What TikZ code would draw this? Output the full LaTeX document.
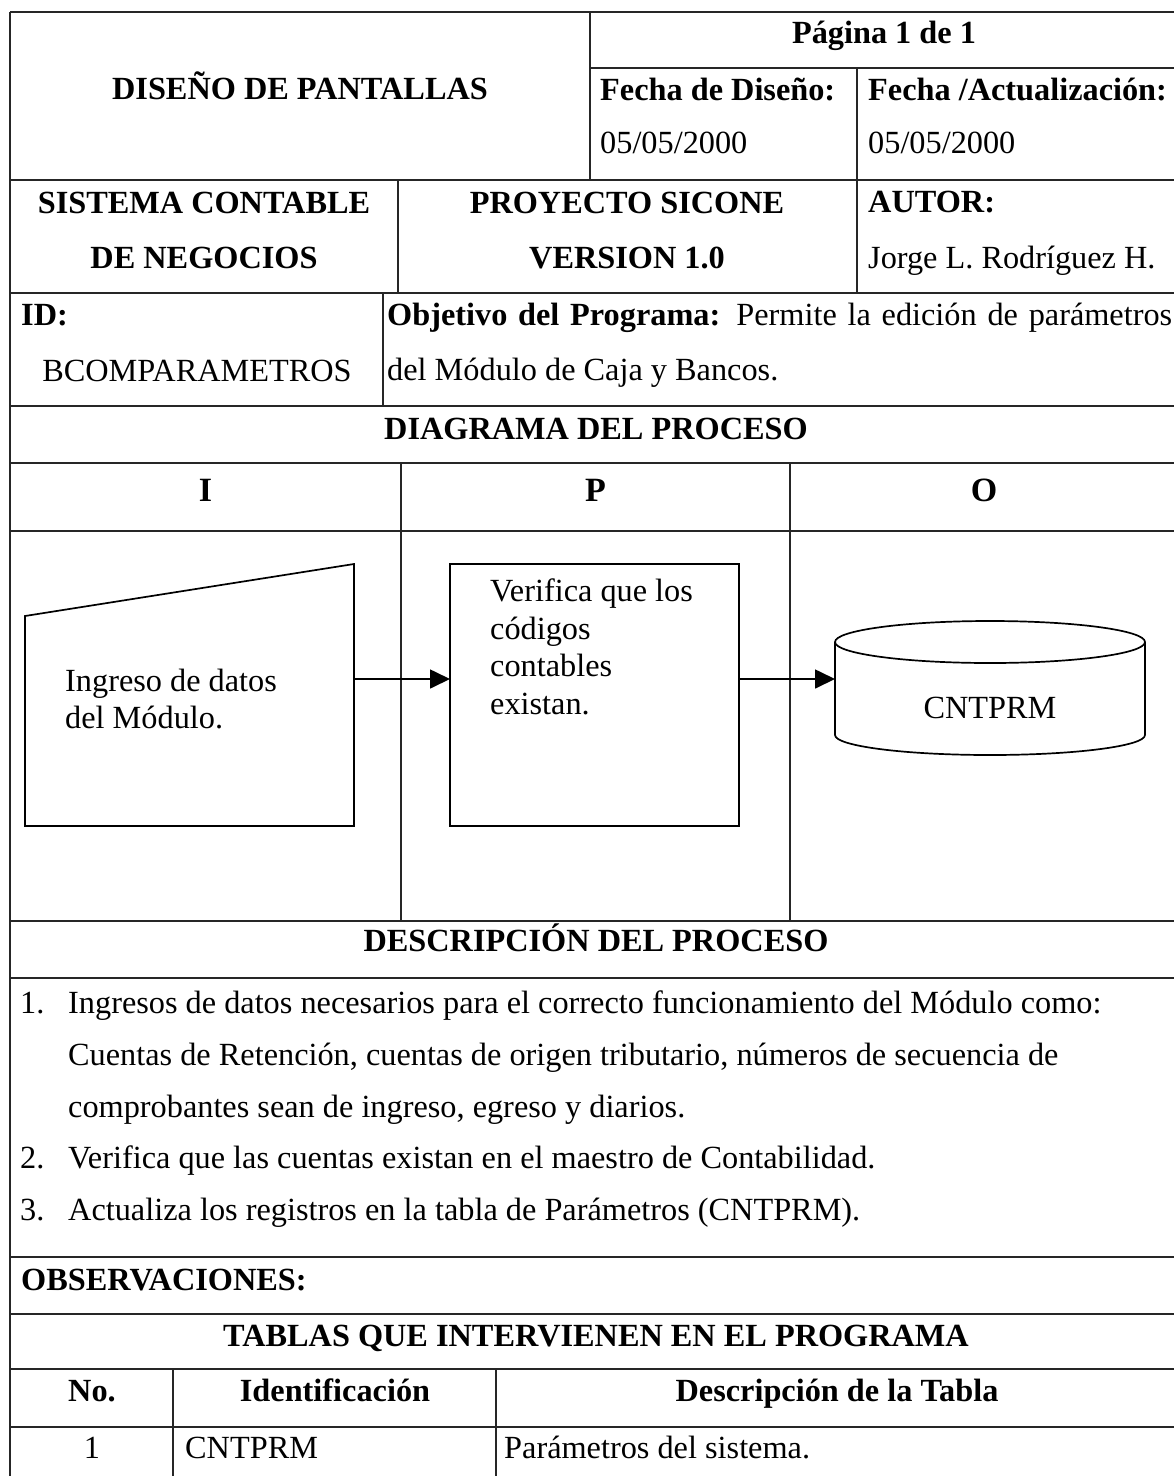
\documentclass[tikz,border=0pt]{standalone}
\usepackage{fontspec}
\setmainfont{Liberation Serif}
\usetikzlibrary{arrows.meta}
\newcommand\myfs{\fontsize{32.3}{37.5}\selectfont}
\begin{document}
\begin{tikzpicture}[x=1pt,y=-1pt,
  grid/.style={line width=1.4pt, draw=black!85},
  shp/.style={line width=1.7pt, draw=black},
  conn/.style={line width=1.7pt, draw=black, -{Triangle[length=20pt,width=19pt]}},
  hb/.style={font=\myfs\bfseries, anchor=base, inner sep=0pt},
  hbl/.style={hb, anchor=base west},
  hr/.style={font=\myfs, anchor=base, inner sep=0pt},
  hrl/.style={hr, anchor=base west},
  ipo/.style={font=\fontsize{34}{38}\selectfont\bfseries, anchor=base, inner sep=0pt},
  boxnode/.style={inner sep=0pt, outer sep=0pt}
]
\useasboundingbox[fill=white] (0,0) rectangle (1174,1476);

% ---------- grid ----------
\foreach \yy in {12,180,293,406,463,531,921,978,1257,1314,1369,1427}
  \draw[grid] (10,\yy) -- (1180,\yy);
\draw[grid] (590,68) -- (1180,68);
\draw[grid] (10,12) -- (10,1480);
\draw[grid] (590,12) -- (590,180);
\draw[grid] (857,68) -- (857,293);
\draw[grid] (398,180) -- (398,293);
\draw[grid] (383,293) -- (383,406);
\draw[grid] (401,463) -- (401,921);
\draw[grid] (790,463) -- (790,921);
\draw[grid] (173,1369) -- (173,1480);
\draw[grid] (496,1369) -- (496,1480);

% ---------- header texts ----------
\node[hb]  (pag)  at (884,43)  {Página 1 de 1};
\node[hb]  (dis)  at (300,99)  {DISEÑO DE PANTALLAS};
\node[hbl] (fd)   at (600,100) {Fecha de Diseño:};
\node[hbl] (fa)   at (868,100) {Fecha /Actualización:};
\node[hrl] (d1)   at (600,153) {05/05/2000};
\node[hrl] (d2)   at (868,153) {05/05/2000};
\node[hb]  (sc1)  at (204,213) {SISTEMA CONTABLE};
\node[hb]  (sc2)  at (204,268) {DE NEGOCIOS};
\node[hb]  (ps1)  at (627,213) {PROYECTO SICONE};
\node[hb]  (ps2)  at (627,268) {VERSION 1.0};
\node[hbl] (aut)  at (868,212) {AUTOR:};
\node[hrl] (jor)  at (868,268) {Jorge L. Rodríguez H.};
\node[hbl] (idl)  at (21,325)  {ID:};
\node[hr]  (bcom) at (197,381) {BCOMPARAMETROS};
\node[hrl] (obj)  at (387,325) {\makebox[785pt][s]{\bfseries Objetivo del Programa:\mdseries{} Permite la edición de parámetros}};
\node[hrl] (obj2) at (387,380) {del Módulo de Caja y Bancos.};

% ---------- diagram ----------
\node[hb]  (diag) at (596,439) {DIAGRAMA DEL PROCESO};
\node[ipo] (colI) at (205.5,501) {I};
\node[ipo] (colP) at (595.5,501) {P};
\node[ipo] (colO) at (984,501)   {O};

\coordinate (ay) at (0,679);

% manual input shape
\node[boxnode, minimum width=329pt, minimum height=262pt] (inp) at (189.5,695) {};
\draw[shp] (inp.south west) -- (inp.south east) -- (inp.north east)
  -- ([yshift=-52pt]inp.north west) -- cycle;
\node[hrl] (inpt1) at (65,691) {Ingreso de datos};
\node[hrl] (inpt2) at (65,728) {del Módulo.};

% process box
\node[boxnode, shp, draw, minimum width=289pt, minimum height=262pt] (proc) at (594.5,695) {};
\node[font=\myfs, inner sep=0pt, anchor=north west, align=left] (proct) at (490,579)
  {Verifica que los\\códigos\\contables\\existan.};

% database cylinder
\node[boxnode, minimum width=310pt, minimum height=134pt] (db) at (990,688) {};
\draw[shp] (835,642) -- (835,735) arc[start angle=180, end angle=0, x radius=155, y radius=20] -- (1145,642);
\draw[shp] (990,642) ellipse[x radius=155, y radius=21];
\node[hr] (dbt) at (990,718) {CNTPRM};

\draw[conn] (inp.east |- ay) -- (proc.west |- ay);
\draw[conn] (proc.east |- ay) -- (db.west |- ay);

% ---------- description ----------
\node[hb]  (desc) at (596,951) {DESCRIPCIÓN DEL PROCESO};
\node[hrl] (n1) at (20,1013) {1.};
\node[hrl] (t1a) at (68,1013) {Ingresos de datos necesarios para el correcto funcionamiento del Módulo como:};
\node[hrl] (t1b) at (68,1065) {Cuentas de Retención, cuentas de origen tributario, números de secuencia de};
\node[hrl] (t1c) at (68,1117) {comprobantes sean de ingreso, egreso y diarios.};
\node[hrl] (n2) at (20,1168) {2.};
\node[hrl] (t2) at (68,1168) {Verifica que las cuentas existan en el maestro de Contabilidad.};
\node[hrl] (n3) at (20,1220) {3.};
\node[hrl] (t3) at (68,1220) {Actualiza los registros en la tabla de Parámetros (CNTPRM).};

\node[hbl] (obs) at (21,1290) {OBSERVACIONES:};
\node[hb]  (tab) at (596,1346) {TABLAS QUE INTERVIENEN EN EL PROGRAMA};
\node[hb]  (hno) at (92,1401)  {No.};
\node[hb]  (hid) at (335,1401) {Identificación};
\node[hb]  (hde) at (837,1401) {Descripción de la Tabla};
\node[hr]  (r1n) at (92,1458)  {1};
\node[hrl] (r1i) at (185,1458) {CNTPRM};
\node[hrl] (r1d) at (504,1458) {Parámetros del sistema.};
\end{tikzpicture}
\end{document}
